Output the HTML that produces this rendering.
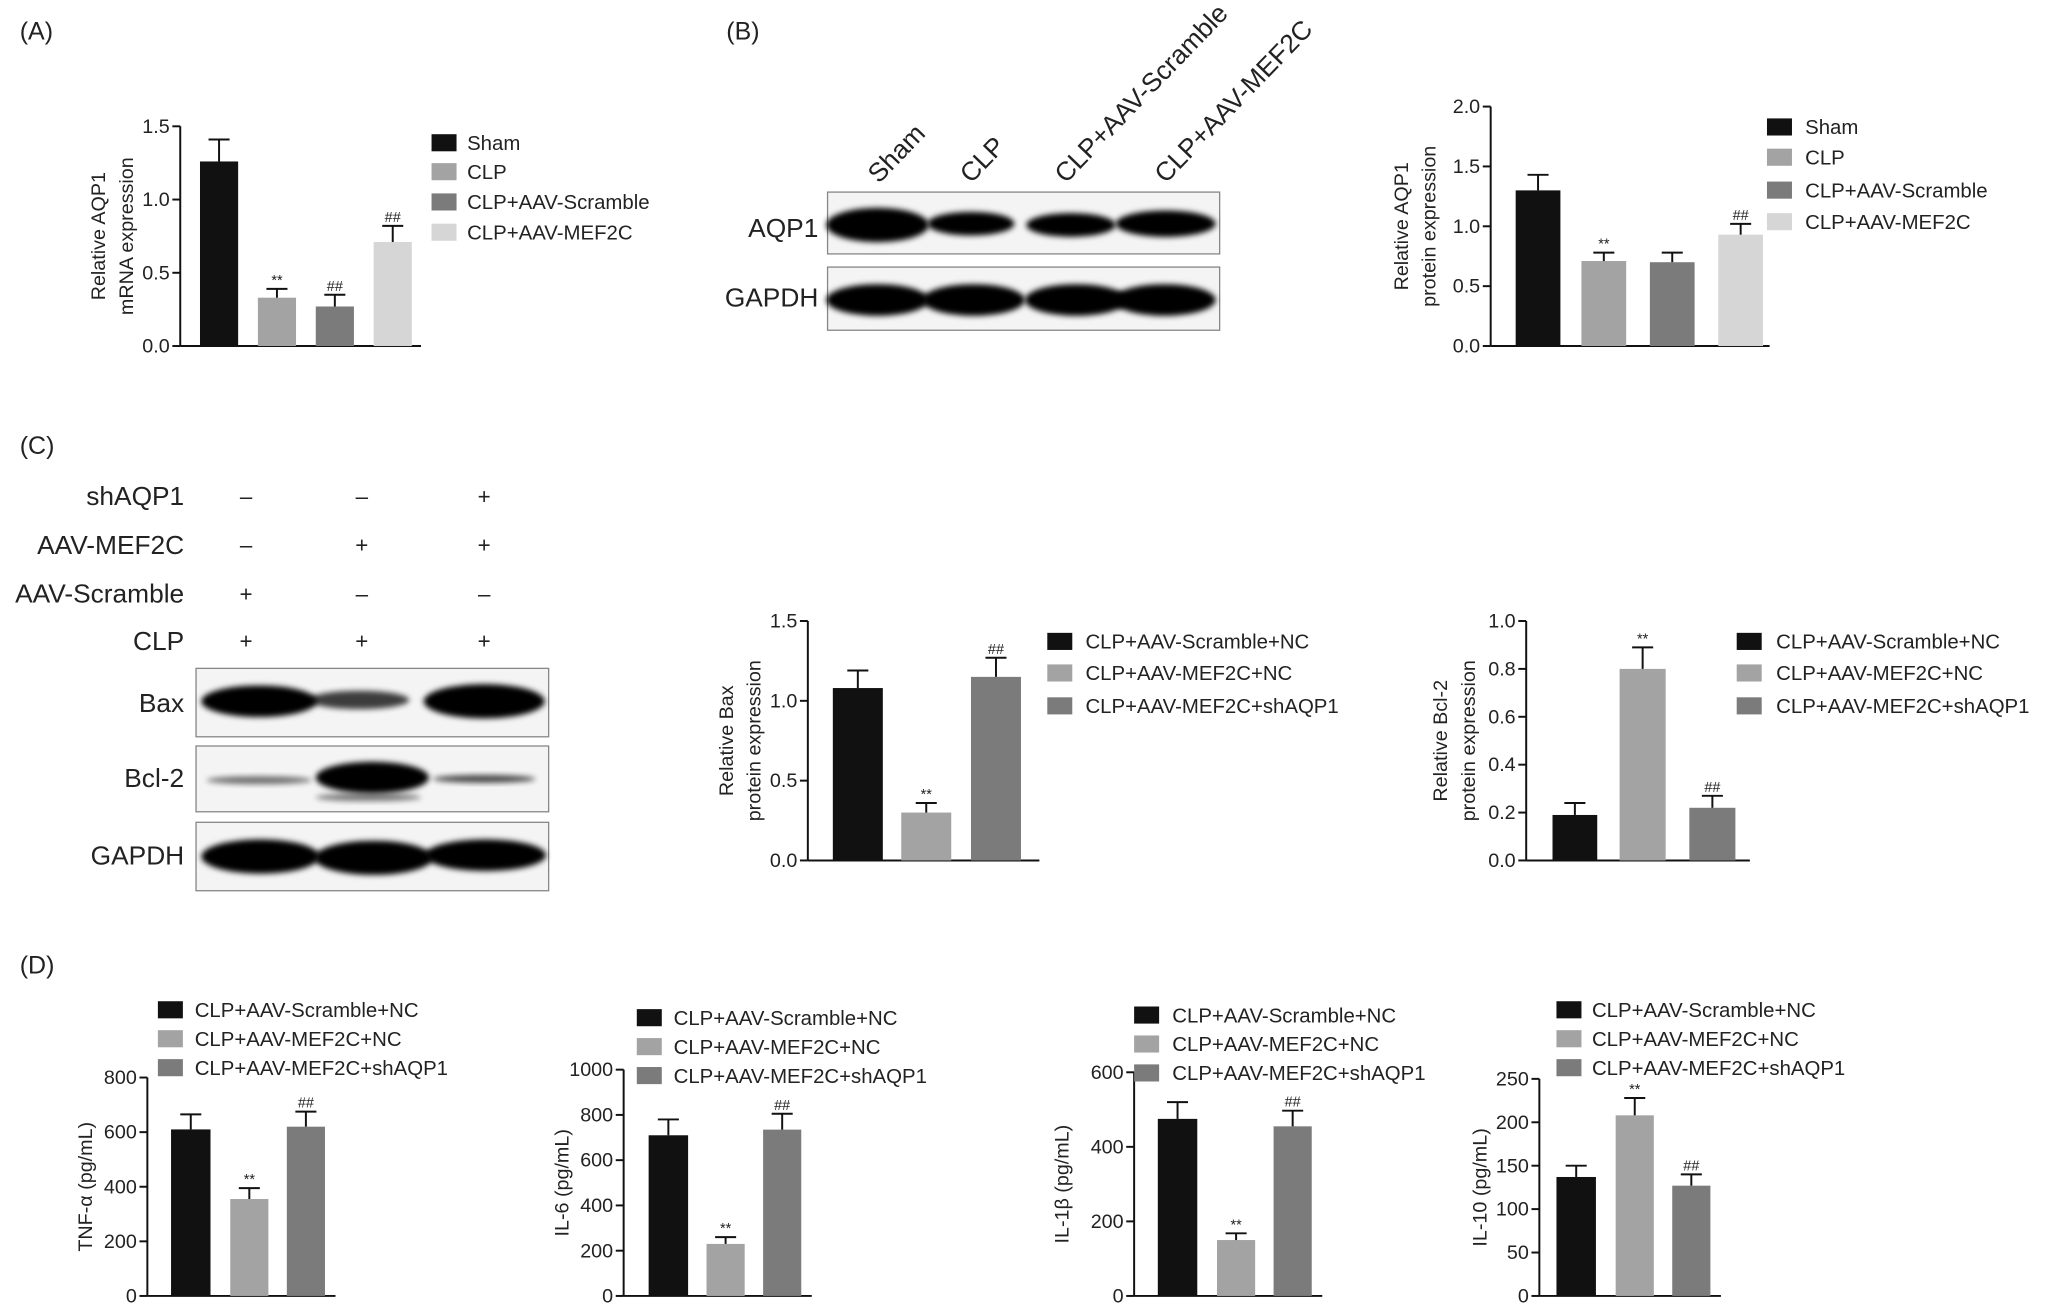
<!DOCTYPE html>
<html><head><meta charset="utf-8"><style>
html,body{margin:0;padding:0;background:#fff;width:2063px;height:1307px;overflow:hidden}
svg{display:block}
text{font-family:"Liberation Sans",sans-serif;fill:#222}
</style></head><body>
<svg id="s" width="2063" height="1307" viewBox="0 0 1568 993.4" preserveAspectRatio="none" xmlns="http://www.w3.org/2000/svg">
<defs>
<filter id="bl" x="-20%" y="-50%" width="140%" height="200%"><feGaussianBlur stdDeviation="2.2"/></filter>
</defs>
</svg>
<script>
var s=document.getElementById('s'),h='';
function T(x,y,t,sz,anc,extra){h+='<text x="'+x+'" y="'+y+'" font-size="'+(sz||15)+'" text-anchor="'+(anc||'start')+'" '+(extra||'')+'>'+t+'</text>';}
function R(x,y,w,hh,c){h+='<rect x="'+x+'" y="'+y+'" width="'+w+'" height="'+hh+'" fill="'+c+'"/>';}
function L(x1,y1,x2,y2,w){h+='<line x1="'+x1+'" y1="'+y1+'" x2="'+x2+'" y2="'+y2+'" stroke="#111" stroke-width="'+(w||1.5)+'"/>';}
var K='#111',G1='#a3a3a3',G2='#7b7b7b',G3='#d6d6d6';
function chart(o){
 var ax=o.ax,y0=o.y0,yt=o.yt,max=o.max;
 L(ax,yt,ax,y0);L(ax,y0,o.xr,y0);
 o.ticks.forEach(function(t){var y=y0-(t/max)*(y0-yt);L(ax-6,y,ax,y);T(ax-8,y+5,o.fmt?o.fmt(t):t,15,'end');});
 o.bars.forEach(function(b){var y=y0-(b[2]/max)*(y0-yt),ey=y0-(b[3]/max)*(y0-yt),cx=(b[0]+b[1])/2;
  R(b[0],y,b[1]-b[0],y0-y,b[4]);L(cx,y,cx,ey);L(cx-8,ey,cx+8,ey);
  if(b[5])T(cx,ey-3,b[5],11,'middle');});
 var cy=(yt+y0)/2;
 o.ylab.forEach(function(t,i){var x=o.lx+i*21;T(x,cy,t,15,'middle','transform="rotate(-90 '+x+' '+cy+')"');});
 o.leg.forEach(function(l){R(l[0],l[1]-6,19,13,l[2]);T(l[0]+o.lt,l[1]+6,l[3],15.5);});
}
// A
T(15,30,'(A)',19);
chart({ax:137,y0:263,yt:96,max:1.5,xr:320,ticks:[0,0.5,1,1.5],fmt:function(t){return t.toFixed(1)},
bars:[[152,181,1.26,1.41,K],[196,225,0.33,0.39,G1,'**'],[240,269,0.27,0.35,G2,'##'],[284,313,0.71,0.82,G3,'##']],
ylab:['Relative AQP1','mRNA expression'],lx:80,
leg:[[328,108,K,'Sham'],[328,130,G1,'CLP'],[328,153,G2,'CLP+AAV-Scramble'],[328,176,G3,'CLP+AAV-MEF2C']],lt:27});
// B blot
T(552,30,'(B)',19);
h+='<rect x="629" y="146" width="298" height="47" fill="#f4f4f4" stroke="#888"/><rect x="629" y="203" width="298" height="48" fill="#f4f4f4" stroke="#888"/>';
function band(cx,cy,w,hh,op){h+='<ellipse cx="'+cx+'" cy="'+cy+'" rx="'+w/2+'" ry="'+hh/2+'" fill="#000" opacity="'+(op||1)+'" filter="url(#bl)"/>';}
band(667,171,78,26);band(738,170,66,18);band(814,171,68,18);band(886,170,76,20);
[667,740,818,885].forEach(function(x){band(x,228,78,24);});
T(622,180,'AQP1',20,'end');T(622,233,'GAPDH',20,'end');
[['Sham',668],['CLP',738],['CLP+AAV-Scramble',810],['CLP+AAV-MEF2C',886]].forEach(function(a){T(a[1],140,a[0],20,'start','transform="rotate(-46 '+a[1]+' 140)"');});
chart({ax:1133,y0:263,yt:81,max:2.0,xr:1345,ticks:[0,0.5,1,1.5,2],fmt:function(t){return t.toFixed(1)},
bars:[[1152,1186,1.3,1.43,K],[1202,1236,0.71,0.78,G1,'**'],[1254,1288,0.70,0.78,G2],[1306,1340,0.93,1.02,G3,'##']],
ylab:['Relative AQP1','protein expression'],lx:1070,
leg:[[1343,96,K,'Sham'],[1343,119,G1,'CLP'],[1343,144,G2,'CLP+AAV-Scramble'],[1343,168,G3,'CLP+AAV-MEF2C']],lt:29});
// C
T(15,345,'(C)',19);
var rows=[['shAQP1',377,['–','–','+']],['AAV-MEF2C',414,['–','+','+']],['AAV-Scramble',451,['+','–','–']],['CLP',487,['+','+','+']]];
rows.forEach(function(r){T(140,r[1]+7,r[0],20,'end');[187,275,368].forEach(function(x,i){T(x,r[1]+6,r[2][i],17,'middle');});});
h+='<rect x="149" y="508" width="268" height="52" fill="#f4f4f4" stroke="#888"/><rect x="149" y="567" width="268" height="50" fill="#f4f4f4" stroke="#888"/><rect x="149" y="625" width="268" height="52" fill="#f4f4f4" stroke="#888"/>';
band(197,533,88,24);band(273,532,76,14,0.75);band(368,533,92,26);
band(197,593,80,6,0.55);band(283,591,86,24);band(280,606,80,6,0.5);band(368,592,78,6,0.7);
band(198,651,90,26);band(284,652,90,26);band(369,650,92,24);
T(140,541,'Bax',20,'end');T(140,598,'Bcl-2',20,'end');T(140,657,'GAPDH',20,'end');
chart({ax:614,y0:654,yt:472,max:1.5,xr:790,ticks:[0,0.5,1,1.5],fmt:function(t){return t.toFixed(1)},
bars:[[633,671,1.08,1.19,K],[685,723,0.30,0.36,G1,'**'],[738,776,1.15,1.27,G2,'##']],
ylab:['Relative Bax','protein expression'],lx:557,
leg:[[796,487,K,'CLP+AAV-Scramble+NC'],[796,511,G1,'CLP+AAV-MEF2C+NC'],[796,536,G2,'CLP+AAV-MEF2C+shAQP1']],lt:29});
chart({ax:1160,y0:654,yt:472,max:1.0,xr:1330,ticks:[0,0.2,0.4,0.6,0.8,1.0],fmt:function(t){return t.toFixed(1)},
bars:[[1180,1214,0.19,0.24,K],[1231,1266,0.80,0.89,G1,'**'],[1284,1319,0.22,0.27,G2,'##']],
ylab:['Relative Bcl-2','protein expression'],lx:1100,
leg:[[1320,487,K,'CLP+AAV-Scramble+NC'],[1320,511,G1,'CLP+AAV-MEF2C+NC'],[1320,536,G2,'CLP+AAV-MEF2C+shAQP1']],lt:30});
// D
T(15,740,'(D)',19);
function dleg(x,y,t){return [[x,y,K,'CLP+AAV-Scramble+NC'],[x,y+22,G1,'CLP+AAV-MEF2C+NC'],[x,y+44,G2,'CLP+AAV-MEF2C+shAQP1']];}
chart({ax:112,y0:985,yt:819,max:800,xr:255,ticks:[0,200,400,600,800],
bars:[[130,160,610,665,K],[175,204,355,395,G1,'**'],[218,247,620,675,G2,'##']],
ylab:['TNF-α (pg/mL)'],lx:70,leg:dleg(120,767),lt:28});
chart({ax:474,y0:985,yt:813,max:1000,xr:617,ticks:[0,200,400,600,800,1000],
bars:[[493,523,710,780,K],[537,566,230,260,G1,'**'],[580,609,735,805,G2,'##']],
ylab:['IL-6 (pg/mL)'],lx:432,leg:dleg(484,773),lt:28});
chart({ax:862,y0:985,yt:815,max:600,xr:1005,ticks:[0,200,400,600],
bars:[[880,910,475,520,K],[925,954,150,168,G1,'**'],[968,997,455,497,G2,'##']],
ylab:['IL-1β (pg/mL)'],lx:812,leg:dleg(862,771),lt:29});
chart({ax:1170,y0:985,yt:820,max:250,xr:1308,ticks:[0,50,100,150,200,250],
bars:[[1183,1213,137,150,K],[1228,1257,208,228,G1,'**'],[1271,1300,127,140,G2,'##']],
ylab:['IL-10 (pg/mL)'],lx:1130,leg:dleg(1183,767),lt:27});
s.innerHTML+=h;
</script>
</body></html>
